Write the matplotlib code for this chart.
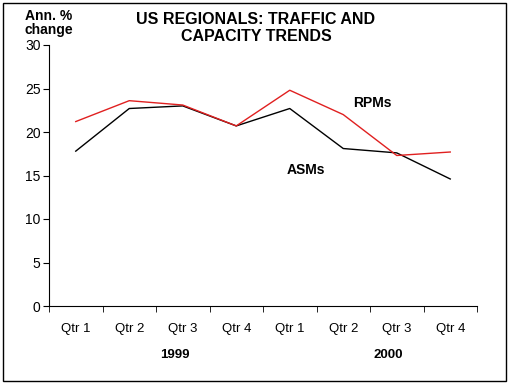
import matplotlib.pyplot as plt

plt.rcParams["font.family"] = ["Liberation Sans", "DejaVu Sans"]

quarters = ["Qtr 1", "Qtr 2", "Qtr 3", "Qtr 4", "Qtr 1", "Qtr 2", "Qtr 3", "Qtr 4"]
years = ["1999", "2000"]
rpms = [21.2, 23.6, 23.1, 20.7, 24.8, 22.0, 17.3, 17.7]
asms = [17.8, 22.7, 23.0, 20.7, 22.7, 18.1, 17.6, 14.6]

fig = plt.figure(figsize=(5.12, 3.84), dpi=100)
ax = fig.add_axes([49 / 512, 1 - 306 / 384, 428 / 512, 261 / 384])

x = range(len(quarters))
ax.plot(x, asms, color="black", lw=1)
ax.plot(x, rpms, color="#e02020", lw=1)

ax.set_xlim(-0.5, len(quarters) - 0.5)
ax.set_ylim(0, 30)
ax.set_yticks(range(0, 31, 5))
ax.set_xticks(x)
ax.set_xticklabels(quarters, fontsize=9.5)
ax.set_xticks([i + 0.5 for i in range(-1, len(quarters))], minor=True)
ax.tick_params(axis="x", which="major", length=0, pad=12)
ax.tick_params(axis="x", which="minor", length=4, direction="out")
ax.tick_params(axis="y", length=4, labelsize=10, pad=2)
for s in ["top", "right"]:
    ax.spines[s].set_visible(False)

ax.text(1.85, -5.6, years[0], ha="center", va="center", fontsize=9.5, weight="bold")
ax.text(5.85, -5.6, years[1], ha="center", va="center", fontsize=9.5, weight="bold")

ax.text(5.55, 23.3, "RPMs", ha="center", va="center", fontsize=10, weight="bold")
ax.text(4.3, 15.6, "ASMs", ha="center", va="center", fontsize=10, weight="bold")

fig.text(0.5, 1 - 28 / 384, "US REGIONALS: TRAFFIC AND\nCAPACITY TRENDS", ha="center",
         va="center", fontsize=11.5, weight="bold", linespacing=1.15)
fig.text(49 / 512, 1 - 23 / 384, "Ann. %\nchange", ha="center", va="center", fontsize=10,
         weight="bold", linespacing=1.0)

fig.add_artist(plt.Rectangle((3 / 512, 3 / 384), 503 / 512, 378 / 384, transform=fig.transFigure,
                             fill=False, lw=1, ec="black"))

fig.savefig("out.png", dpi=100)
